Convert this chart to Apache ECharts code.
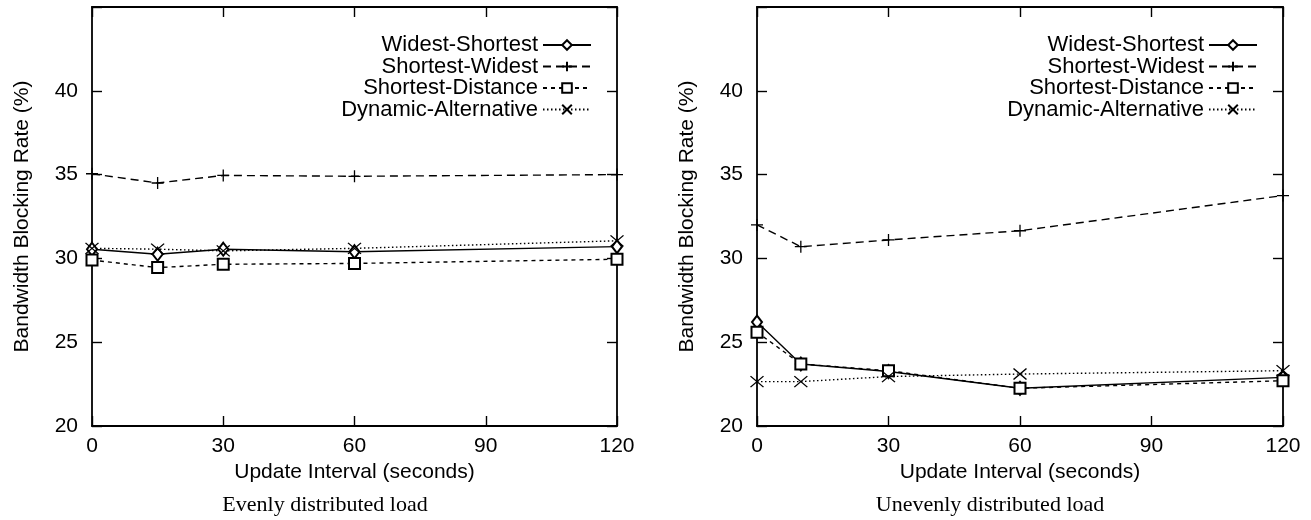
<!DOCTYPE html>
<html>
<head>
<meta charset="utf-8">
<script src="https://cdn.jsdelivr.net/npm/echarts@6/dist/echarts.min.js"></script>
<style>html,body{margin:0;padding:0;background:#fff;}#c{width:1311px;height:520px;}</style>
</head>
<body>
<div id="c"></div>
<script>
// ---- data ----
const seriesNames = ['Widest-Shortest', 'Shortest-Widest', 'Shortest-Distance', 'Dynamic-Alternative'];
const xEven = [0, 15, 30, 60, 120];
const xUneven = [0, 10, 30, 60, 120];
const evenWS = [30.55, 30.25, 30.55, 30.4, 30.7];
const evenSW = [35.05, 34.5, 34.95, 34.9, 35.0];
const evenSD = [29.9, 29.45, 29.65, 29.7, 29.95];
const evenDA = [30.6, 30.55, 30.45, 30.6, 31.05];
const unevenWS = [26.2, 23.7, 23.25, 22.25, 22.9];
const unevenSW = [32.0, 30.7, 31.1, 31.65, 33.75];
const unevenSD = [25.6, 23.7, 23.3, 22.25, 22.7];
const unevenDA = [22.65, 22.65, 22.95, 23.1, 23.3];
const xTicks = [0, 30, 60, 90, 120];
const yTicks = [20, 25, 30, 35, 40];
const subtitles = ['Evenly distributed load', 'Unevenly distributed load'];
const xAxisName = 'Update Interval (seconds)';
const yAxisName = 'Bandwidth Blocking Rate (%)';

// ---- styles ----
const SANS = 'Liberation Sans';
const FS = 21;
const styles = [
  { symbol: 'emptyDiamond', symbolSize: [10, 13], line: 'solid' },
  { symbol: 'path://M5,0 L5,10 M0,5 L10,5', symbolSize: 12, line: [8, 5] },
  { symbol: 'emptyRect', symbolSize: 11, line: [4, 4] },
  { symbol: 'path://M0,0 L10,10 M10,0 L0,10', symbolSize: [13, 11], line: [1.5, 2.5] }
];

const grids = [
  { left: 92, top: 7, width: 525, height: 419 },
  { left: 757, top: 7, width: 526, height: 419 }
];

function pairs(xs, ys) { return xs.map((x, i) => [x, ys[i]]); }

const xAxes = [], yAxes = [];
grids.forEach((g, gi) => {
  const baseX = {
    type: 'value', gridIndex: gi, min: xTicks[0], max: xTicks[xTicks.length - 1],
    interval: xTicks[1] - xTicks[0],
    splitLine: { show: false },
    axisLine: { show: true, onZero: false, lineStyle: { color: '#000', width: 1.8 } },
    axisTick: { show: true, inside: true, length: 10, lineStyle: { color: '#000', width: 1.4 } }
  };
  xAxes.push(Object.assign({}, baseX, {
    position: 'bottom',
    name: xAxisName, nameLocation: 'middle', nameGap: 27,
    nameTextStyle: { color: '#000', fontSize: FS, fontFamily: SANS },
    axisLabel: { color: '#000', fontSize: FS, fontFamily: SANS, margin: 10 }
  }));
  xAxes.push(Object.assign({}, baseX, { position: 'top', axisLabel: { show: false } }));
  const baseY = {
    type: 'value', gridIndex: gi, min: 20, max: 45, interval: 5,
    splitLine: { show: false },
    axisLine: { show: true, onZero: false, lineStyle: { color: '#000', width: 1.8 } },
    axisTick: { show: true, inside: true, length: 10, lineStyle: { color: '#000', width: 1.4 } }
  };
  yAxes.push(Object.assign({}, baseY, {
    position: 'left',
    name: yAxisName, nameLocation: 'middle', nameGap: 59, nameRotate: 90,
    nameTextStyle: { color: '#000', fontSize: FS, fontFamily: SANS },
    axisLabel: { color: '#000', fontSize: FS, fontFamily: SANS, margin: 14,
      formatter: v => (yTicks.indexOf(v) >= 0 ? String(v) : '') }
  }));
  yAxes.push(Object.assign({}, baseY, { position: 'right', axisLabel: { show: false } }));
});

const dataSets = [
  [pairs(xEven, evenWS), pairs(xEven, evenSW), pairs(xEven, evenSD), pairs(xEven, evenDA)],
  [pairs(xUneven, unevenWS), pairs(xUneven, unevenSW), pairs(xUneven, unevenSD), pairs(xUneven, unevenDA)]
];

const series = [];
dataSets.forEach((sets, gi) => {
  sets.forEach((d, si) => {
    const st = styles[si];
    series.push({
      type: 'line', name: seriesNames[si], data: d,
      xAxisIndex: gi * 2, yAxisIndex: gi * 2,
      symbol: st.symbol, symbolSize: st.symbolSize, showSymbol: true,
      clip: false, animation: false,
      lineStyle: { color: '#000', width: 1.4, type: st.line },
      itemStyle: { color: '#000', borderColor: '#000', borderWidth: 1.3 },
      emphasis: { disabled: true }
    });
  });
});

const legends = [];
grids.forEach((g, gi) => {
  const rightEdge = g.left + g.width - 25;
  seriesNames.forEach((n, i) => {
    legends.push({
      data: [n], orient: 'horizontal', align: 'right',
      right: 1311 - rightEdge, top: 34 + i * 21.5,
      padding: 0, itemWidth: 48, itemHeight: 12, itemGap: 0,
      textStyle: { color: '#000', fontSize: 22, fontFamily: SANS },
      selectedMode: false
    });
  });
});

const titles = subtitles.map((t, i) => ({
  text: t, left: i === 0 ? 320 : 985, top: 489, textAlign: 'center',
  textStyle: { fontFamily: 'Liberation Serif', fontSize: 22, fontWeight: 'normal', color: '#000' }
}));

const chart = echarts.init(document.getElementById('c'), null, { renderer: 'canvas' });
chart.setOption({
  animation: false,
  backgroundColor: '#fff',
  title: titles,
  grid: grids,
  xAxis: xAxes,
  yAxis: yAxes,
  legend: legends,
  series: series
});
</script>
</body>
</html>
